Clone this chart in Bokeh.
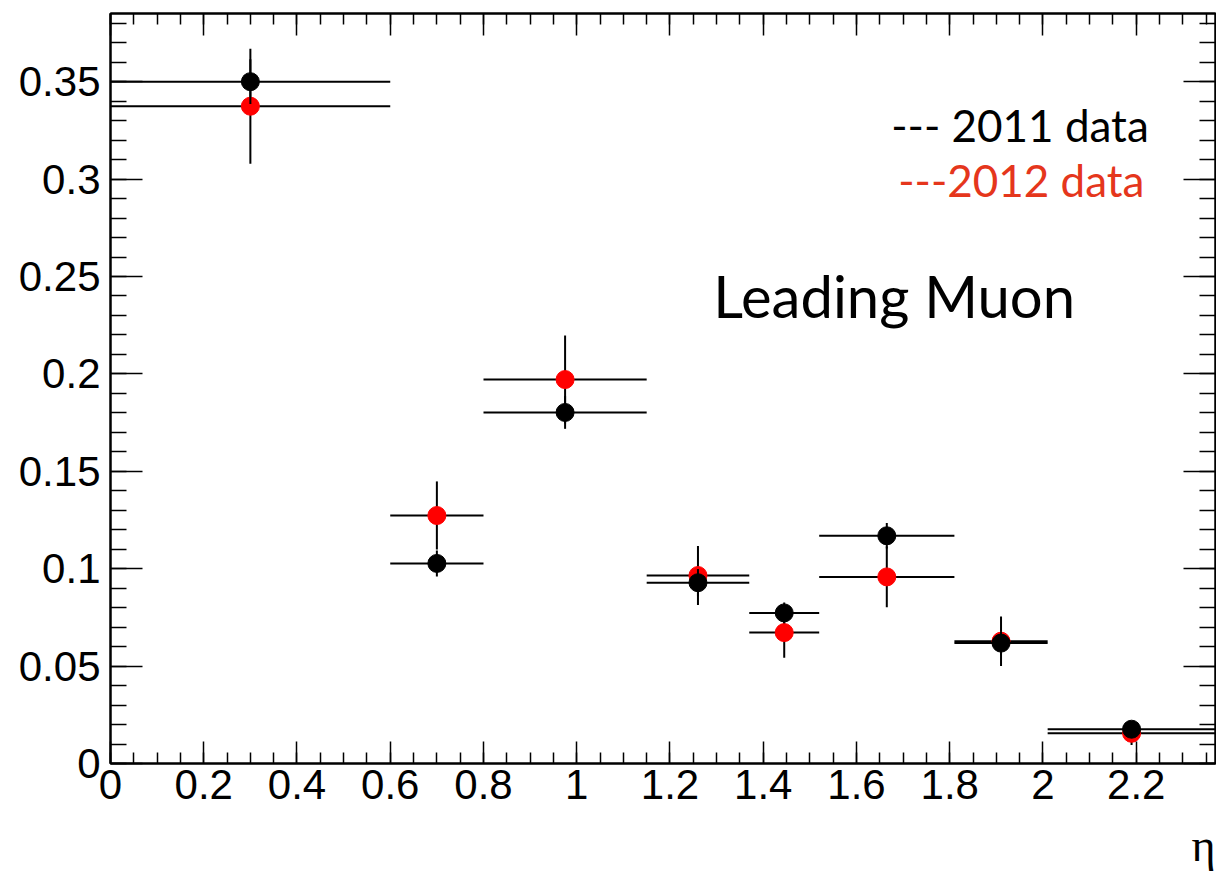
import numpy as np
from bokeh.plotting import figure
from bokeh.models import Range1d, LinearAxis, SingleIntervalTicker, CustomJSTickFormatter, Label, Title
from bokeh.embed import file_html
from bokeh.resources import INLINE

# ---- data ----
bin_edges = [0.0, 0.6, 0.8, 1.15, 1.37, 1.52, 1.81, 2.01, 2.37]
eff_2011 = [0.3500, 0.1027, 0.1802, 0.0928, 0.0773, 0.1169, 0.0618, 0.0176]
err_2011 = [0.0115, 0.0067, 0.0084, 0.0070, 0.0053, 0.0065, 0.0060, 0.0025]
eff_2012 = [0.3374, 0.1273, 0.1971, 0.0965, 0.0672, 0.0958, 0.0628, 0.0155]
err_2012 = [0.0295, 0.0175, 0.0226, 0.0152, 0.0129, 0.0156, 0.0127, 0.0060]
x_ticks_interval = 0.2
y_ticks_interval = 0.05
x_label = "η"
title_text = "Leading Muon"
legend_2011 = "--- 2011 data"
legend_2012 = "---2012 data"

X_MAX = 2.37
Y_MAX = 0.385

edges = np.array(bin_edges)
lo_edges = edges[:-1]
hi_edges = edges[1:]
centers = 0.5 * (lo_edges + hi_edges)

p = figure(width=1216, height=890, x_range=Range1d(0, X_MAX), y_range=Range1d(0, Y_MAX),
           output_backend="svg", toolbar_location=None,
           min_border_left=110, min_border_right=1, min_border_top=13, min_border_bottom=127)
p.xgrid.visible = False
p.ygrid.visible = False
p.outline_line_color = "black"
p.outline_line_width = 2
p.background_fill_color = "white"
p.border_fill_color = "white"

fmt_code = "return String(Number(tick.toFixed(4)));"
TICK_FONT = "Liberation Sans"

def style_axis(ax, tin, tmin):
    ax.axis_line_width = 2
    ax.axis_line_color = "black"
    ax.major_tick_in = tin
    ax.major_tick_out = 0
    ax.minor_tick_in = tmin
    ax.minor_tick_out = 0
    ax.major_tick_line_width = 1.5
    ax.minor_tick_line_width = 1.5
    ax.major_tick_line_color = "black"
    ax.minor_tick_line_color = "black"

xa = p.xaxis[0]
xa.ticker = SingleIntervalTicker(interval=x_ticks_interval, num_minor_ticks=4)
xa.formatter = CustomJSTickFormatter(code=fmt_code)
style_axis(xa, 22, 11)
xa.major_label_text_font = TICK_FONT
xa.major_label_text_font_size = "42px"
xa.major_label_text_color = "black"
xa.major_label_standoff = 6

ya = p.yaxis[0]
ya.ticker = SingleIntervalTicker(interval=y_ticks_interval, num_minor_ticks=5)
ya.formatter = CustomJSTickFormatter(code=fmt_code)
style_axis(ya, 32, 16)
ya.major_label_text_font = TICK_FONT
ya.major_label_text_font_size = "42px"
ya.major_label_text_color = "black"
ya.major_label_standoff = 10

top = LinearAxis(ticker=SingleIntervalTicker(interval=x_ticks_interval, num_minor_ticks=4),
                 formatter=CustomJSTickFormatter(code="return '';"),
                 major_label_text_font_size="0px", major_label_standoff=0)
style_axis(top, 22, 11)
p.add_layout(top, "above")

right = LinearAxis(ticker=SingleIntervalTicker(interval=y_ticks_interval, num_minor_ticks=5),
                   formatter=CustomJSTickFormatter(code="return '';"),
                   major_label_text_font_size="0px", major_label_standoff=0)
style_axis(right, 32, 16)
p.add_layout(right, "right")

# ---- 2012 (red) first, then 2011 (black) on top ----
for vals, errs, mcol in ((eff_2012, err_2012, "#ff0000"), (eff_2011, err_2011, "#000000")):
    v = np.array(vals)
    e = np.array(errs)
    p.segment(x0=lo_edges, y0=v, x1=hi_edges, y1=v, line_color="black", line_width=2)
    p.segment(x0=centers, y0=v - e, x1=centers, y1=v + e, line_color="black", line_width=2)
    p.scatter(x=centers, y=v, size=18, marker="circle", fill_color=mcol, line_color=mcol)

# ---- texts (positions from reference pixels -> data) ----
def dx(px):
    return (px - 110.0) / 466.4

def dy(py):
    return (763.3 - py) / 1949.4

LEG_FONT = "Lato"
p.add_layout(Label(x=dx(891), y=dy(124), text=legend_2011, text_font=LEG_FONT,
                   text_font_size="44px", text_color="black", text_baseline="alphabetic",
                   text_align="left"))
p.add_layout(Label(x=dx(898), y=dy(179), text=legend_2012, text_font=LEG_FONT,
                   text_font_size="44px", text_color="#e5361c", text_baseline="alphabetic",
                   text_align="left"))
p.add_layout(Label(x=dx(713), y=dy(295), text=title_text, text_font=LEG_FONT,
                   text_font_size="58px", text_color="black", text_baseline="alphabetic",
                   text_align="left"))

eta = Title(text=x_label, align="right", text_font="Liberation Serif", text_font_size="46px",
            text_font_style="normal", text_color="black", standoff=32, offset=0)
p.add_layout(eta, "below")

open("out.html", "w").write(file_html(p, INLINE))
